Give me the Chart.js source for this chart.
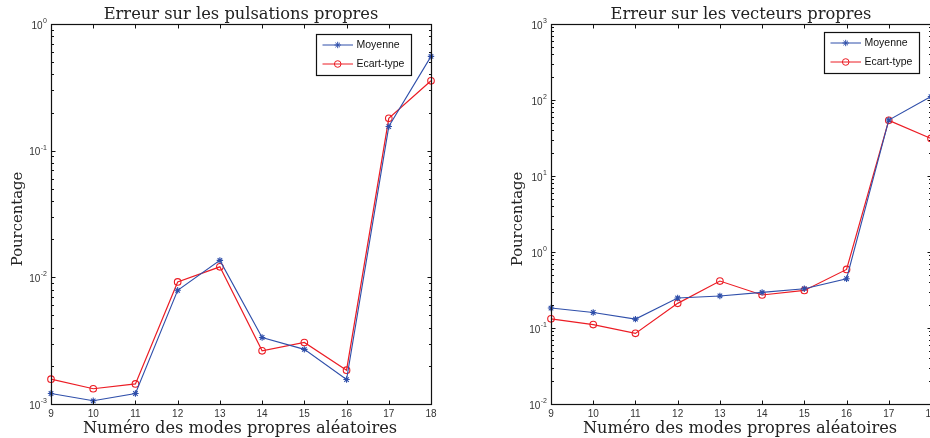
<!DOCTYPE html>
<html>
<head>
<meta charset="utf-8">
<script src="https://cdn.jsdelivr.net/npm/chart.js@4/dist/chart.umd.min.js"></script>
<style>
html,body{margin:0;padding:0;background:#fff;overflow:hidden;width:930px;height:438px;position:relative}
canvas{position:absolute;top:0}
#c1{left:0}
#c2{left:500px}
</style>
</head>
<body>
<canvas id="c1" width="465" height="438"></canvas>
<canvas id="c2" width="465" height="438"></canvas>
<script>
// ---- data ----
const modes = [9, 10, 11, 12, 13, 14, 15, 16, 17, 18];
const pulsMoyenne = [1.21e-3, 1.06e-3, 1.21e-3, 7.9e-3, 1.36e-2, 3.35e-3, 2.70e-3, 1.56e-3, 0.155, 0.555];
const pulsEcart   = [1.57e-3, 1.32e-3, 1.44e-3, 9.2e-3, 1.21e-2, 2.63e-3, 3.06e-3, 1.85e-3, 0.180, 0.356];
const vectMoyenne = [0.183, 0.160, 0.131, 0.248, 0.264, 0.294, 0.329, 0.445, 54.5, 111];
const vectEcart   = [0.132, 0.111, 0.085, 0.211, 0.415, 0.272, 0.312, 0.590, 54.0, 31.2];
const xTicks = [9, 10, 11, 12, 13, 14, 15, 16, 17, 18];
const pulsYExponents = [-3, -2, -1, 0];
const vectYExponents = [-2, -1, 0, 1, 2, 3];
const minorMantissas = [2, 3, 4, 5, 6, 7, 8, 9];
const seriesLabels = ['Moyenne', 'Ecart-type'];
const titles = ['Erreur sur les pulsations propres', 'Erreur sur les vecteurs propres'];
const xLabel = 'Numéro des modes propres aléatoires';
const yLabel = 'Pourcentage';

const BLUE = '#2f4faa';
const RED = '#ec1c24';
const SERIF = '"DejaVu Serif", serif';
const SANS = '"Liberation Sans", Arial, sans-serif';

function drawMarker(ctx, style, x, y, r) {
  ctx.beginPath();
  if (style === 'circle') {
    ctx.arc(x, y, r, 0, Math.PI * 2);
    ctx.stroke();
  } else {
    const d = r * Math.SQRT1_2;
    ctx.moveTo(x - r, y); ctx.lineTo(x + r, y);
    ctx.moveTo(x, y - r); ctx.lineTo(x, y + r);
    ctx.moveTo(x - d, y - d); ctx.lineTo(x + d, y + d);
    ctx.moveTo(x - d, y + d); ctx.lineTo(x + d, y - d);
    ctx.stroke();
  }
}

const framePlugin = {
  id: 'frame',
  afterDraw(chart, args, opts) {
    const ctx = chart.ctx, a = chart.chartArea;
    const xs = chart.scales.x, ys = chart.scales.y;
    ctx.save();
    const L = a.left + 0.5, R = a.right + 0.5, T = a.top + 0.5, B = a.bottom + 0.5;
    // box
    ctx.strokeStyle = '#111';
    ctx.lineWidth = 1.2;
    ctx.strokeRect(L, T, R - L, B - T);
    ctx.lineWidth = 1;
    // x ticks (inside, top and bottom)
    ctx.beginPath();
    xs.ticks.forEach(t => {
      const px = Math.round(xs.getPixelForValue(t.value)) + 0.5;
      ctx.moveTo(px, B); ctx.lineTo(px, B - 4);
      ctx.moveTo(px, T); ctx.lineTo(px, T + 4);
    });
    // y ticks (inside, left and right)
    ys.ticks.forEach(t => {
      const py = Math.round(ys.getPixelForValue(t.value)) + 0.5;
      const len = t.major ? 4 : 2.5;
      ctx.moveTo(L, py); ctx.lineTo(L + len, py);
      ctx.moveTo(R, py); ctx.lineTo(R - len, py);
    });
    ctx.stroke();
    // y labels 10^n
    ctx.fillStyle = '#333';
    ctx.textBaseline = 'middle';
    ctx.textAlign = 'left';
    ys.ticks.filter(t => t.major).forEach(t => {
      const py = ys.getPixelForValue(t.value);
      const e = Math.round(Math.log10(t.value));
      const expTxt = String(e);
      ctx.font = '10px ' + SANS;
      const w10 = ctx.measureText('10').width;
      ctx.font = '7px ' + SANS;
      const we = ctx.measureText(expTxt).width;
      const x0 = a.left - 4 - (w10 + 0.5 + we);
      ctx.font = '10px ' + SANS;
      ctx.fillText('10', x0, py + 2);
      ctx.font = '7px ' + SANS;
      ctx.fillText(expTxt, x0 + w10 + 0.5, py - 3);
    });
    // titles
    ctx.fillStyle = '#222';
    ctx.textAlign = 'center';
    ctx.textBaseline = 'alphabetic';
    ctx.font = '16.3px ' + SERIF;
    const cx = (a.left + a.right) / 2;
    ctx.fillText(opts.title, cx, 18.5);
    ctx.font = '16.2px ' + SERIF;
    ctx.fillText(xLabel, cx - 1, 433);
    ctx.save();
    ctx.translate(18, 219);
    ctx.rotate(-Math.PI / 2);
    ctx.textBaseline = 'middle';
    ctx.font = '14.8px ' + SERIF;
    ctx.fillText(yLabel, 0, 0);
    ctx.restore();
    // legend
    const w = 95, h = 41;
    const bx = Math.round(a.right - opts.legendRight - w), by = Math.round(a.top + opts.legendTop);
    ctx.fillStyle = '#fff';
    ctx.fillRect(bx, by, w, h);
    ctx.strokeStyle = '#111';
    ctx.lineWidth = 1.2;
    ctx.strokeRect(bx + 0.5, by + 0.5, w, h);
    chart.data.datasets.forEach((ds, i) => {
      const ry = by + 11 + i * 19;
      ctx.strokeStyle = ds.borderColor;
      ctx.lineWidth = 1;
      ctx.beginPath();
      ctx.moveTo(bx + 6.5, ry); ctx.lineTo(bx + 37, ry);
      ctx.stroke();
      drawMarker(ctx, ds.pointStyle, bx + 21.7, ry, ds.pointRadius);
      ctx.fillStyle = '#111';
      ctx.font = '10.5px ' + SANS;
      ctx.textAlign = 'left';
      ctx.textBaseline = 'middle';
      ctx.fillText(ds.label, bx + 40.5, ry + 0.5);
    });
    ctx.restore();
  }
};

function makeChart(id, title, moy, ecart, exps, legendRight, legendTop) {
  const yMin = Math.pow(10, exps[0]);
  const yMax = Math.pow(10, exps[exps.length - 1]);
  return new Chart(document.getElementById(id), {
    type: 'line',
    data: {
      datasets: [
        {
          label: seriesLabels[0],
          data: modes.map((m, i) => ({ x: m, y: moy[i] })),
          borderColor: BLUE, backgroundColor: BLUE,
          borderWidth: 1.1, pointStyle: 'star', pointRadius: 3.2,
          pointBorderColor: BLUE, pointBorderWidth: 1.1, clip: false, tension: 0
        },
        {
          label: seriesLabels[1],
          data: modes.map((m, i) => ({ x: m, y: ecart[i] })),
          borderColor: RED, backgroundColor: 'rgba(0,0,0,0)',
          borderWidth: 1.2, pointStyle: 'circle', pointRadius: 3.3,
          pointBorderColor: RED, pointBackgroundColor: 'rgba(0,0,0,0)',
          pointBorderWidth: 1.1, clip: false, tension: 0
        }
      ]
    },
    options: {
      responsive: false,
      animation: false,
      devicePixelRatio: 1,
      events: [],
      layout: { padding: { left: 0, top: 24, right: 34, bottom: 0 }, autoPadding: false },
      plugins: {
        legend: { display: false },
        tooltip: { enabled: false },
        title: { display: false },
        frame: { title: title, legendRight: legendRight, legendTop: legendTop }
      },
      scales: {
        x: {
          type: 'linear', min: 9, max: 18,
          grid: { display: false, drawTicks: false },
          border: { display: false },
          afterBuildTicks: s => { s.ticks = xTicks.map(v => ({ value: v })); },
          ticks: {
            font: { family: SANS, size: 10 }, color: '#333', padding: 4,
            maxRotation: 0, autoSkip: false, callback: v => String(v)
          },
          afterFit: s => { s.height = 34; }
        },
        y: {
          type: 'logarithmic', min: yMin, max: yMax,
          grid: { display: false, drawTicks: false },
          border: { display: false },
          afterBuildTicks: s => {
            const t = [];
            exps.forEach((e, i) => {
              t.push({ value: Math.pow(10, e), major: true });
              if (i < exps.length - 1) minorMantissas.forEach(m => t.push({ value: m * Math.pow(10, e), major: false }));
            });
            s.ticks = t;
          },
          ticks: { display: false, autoSkip: false },
          afterFit: s => { s.width = 51; }
        }
      }
    },
    plugins: [framePlugin]
  });
}

makeChart('c1', titles[0], pulsMoyenne, pulsEcart, pulsYExponents, 20, 10);
makeChart('c2', titles[1], vectMoyenne, vectEcart, vectYExponents, 11.7, 7.7);
</script>
</body>
</html>
